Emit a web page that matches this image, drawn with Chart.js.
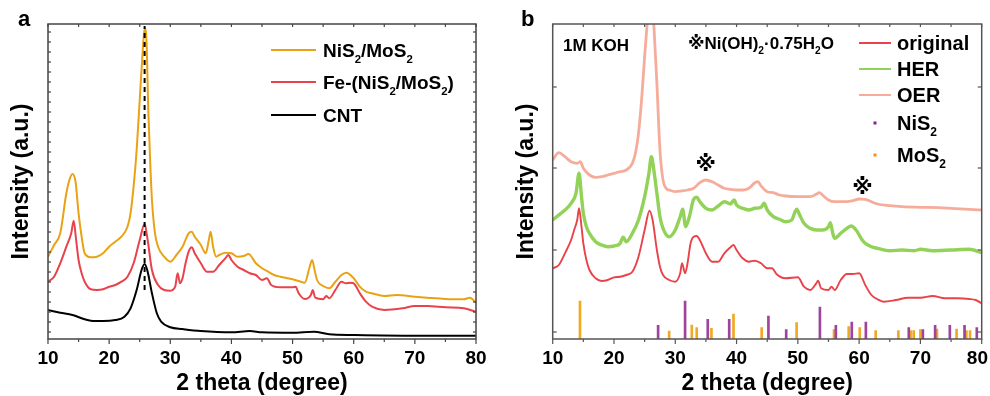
<!DOCTYPE html>
<html><head><meta charset="utf-8">
<script src="https://cdn.jsdelivr.net/npm/chart.js@4.4.1/dist/chart.umd.min.js"></script>
<style>
html,body{margin:0;padding:0;background:#fff;overflow:hidden;}
#wrap{position:relative;width:990px;height:396px;}
canvas{position:absolute;top:0;}
</style>
</head><body>
<div id="wrap">
<canvas id="ca" width="495" height="396" style="left:0"></canvas>
<canvas id="cb" width="495" height="396" style="left:495px"></canvas>
</div>
<script>
// ---------------- DATA ----------------
const xTickLabels = [10, 20, 30, 40, 50, 60, 70, 80];

// Panel a: [2theta, intensity(a.u.)]
const nisMosA = [[10,82.3],[11,94],[12,105.7],[13,145.7],[13.5,159],[14,165],[14.5,157.3],[15,125.7],[15.5,102.3],[16,85.7],[17,81.7],[18,82.3],[19,85.7],[20,92.3],[21,97.3],[22,102.3],[23,112.3],[23.5,125.7],[24,152.3],[24.5,189],[25,239],[25.5,289],[25.8,310.7],[26.1,299],[26.4,229],[26.7,179],[27,139],[27.5,105.7],[28,92.3],[29,82.3],[30,77.3],[31,84],[32,92.3],[33,105.7],[33.5,107.3],[34,102.3],[35,94],[35.8,85.7],[36.3,99],[36.6,107.3],[37,92.3],[37.5,82.3],[38,84],[39,86.3],[40,85.7],[41,82.3],[42,83],[42.8,85],[44,75.7],[45,70.7],[46,67.3],[47,64],[48,62.3],[50,59.7],[51,58],[52,56.3],[52.8,72.3],[53.2,79],[53.6,69],[54,59],[55,53],[56,50.7],[57,57.3],[58,64],[58.8,66.3],[60,60.7],[61,52.3],[62,47.3],[63,45.7],[65,43],[67,44],[70,42.3],[72,41.3],[75,40],[78,39.7],[79,41.3],[80,36.3]];
const feNisMosA = [[10,57.3],[11,62.3],[12,75.7],[13,92.3],[13.8,105.7],[14.2,118.3],[14.6,99],[15,79],[15.5,65.7],[16,57.3],[17,49.7],[18,49],[19,49.7],[20,52.3],[21,54],[22,57.3],[23,62.3],[24,75.7],[25,99],[25.8,115],[26.3,99],[27,69],[28,54],[29,49],[30,48.3],[30.8,52.3],[31.2,65.7],[31.6,55.7],[32,60.7],[32.5,75.7],[33,87.3],[33.5,91.7],[34,85.7],[35,75.7],[36,67.3],[37,67.3],[38,74],[39,80.7],[39.5,84],[40,79],[41,72.3],[42,69],[43,65.7],[44,64],[45,59],[45.8,60.7],[46.5,54],[48,51.7],[50,51.7],[50.5,52.3],[51,45.7],[52,40],[53,44],[53.3,49],[53.7,41.3],[55,39.7],[55.5,43],[56,40.7],[57,49],[58,57.3],[58.7,55.7],[59.5,56.3],[60,55.7],[61,45.7],[62,37.3],[63,32.3],[65,29],[68,30.7],[70,33],[72,33],[75,31.7],[78,30.7],[80,27.3]];
const cntA = [[10,29],[12,26.3],[14,24],[16,19.7],[17,18.3],[19,18],[21,19],[22.5,22.3],[23.5,30.7],[24.5,49],[25.3,69],[25.8,75],[26.3,67.3],[27,45.7],[27.8,25.7],[28.5,17.3],[30,11.7],[32,10],[35,8],[40,6.7],[43,8],[45,6.7],[50,6.3],[53.5,7.3],[56,4.7],[60,4],[70,3.3],[80,3.3]];
const dashLineA = [[25.8,49],[25.8,313]];

// Panel b
const originalB = [[10,70.7],[11,74],[12,85.7],[13,99],[13.5,109],[14,119],[14.3,130.7],[14.7,112.3],[15,95.7],[15.5,79],[16,69],[17,60.7],[18,58],[19,59],[20,61.7],[21,62.3],[22,64],[23,67.3],[24,82.3],[25,109],[25.8,128.3],[26.3,119],[27,89],[27.5,72.3],[28,64],[29,59],[30,57.3],[30.8,65.7],[31.1,75.7],[31.6,65.7],[32,75.7],[32.5,95.7],[33,102.3],[33.5,103],[34,99],[35,85.7],[36,77.3],[37,77.3],[38,85.7],[39,91.7],[39.5,94],[40,89],[41,80.7],[42,77.3],[43,78.3],[44,75.7],[45,70.7],[45.8,70.7],[46.5,65],[48,60.7],[50,61.7],[51,52.3],[52,49],[53,55.7],[53.3,58.3],[53.8,50.7],[55,49],[55.5,52.3],[56,49],[57,59],[58,65],[59,65],[60,65.7],[61,54],[62,44],[63,39.7],[64,37.3],[66,39],[68,41.3],[70,41.3],[72,43],[74,40.7],[76,40.7],[78,40],[79,39],[80,35.7]];
const herB = [[10,119],[11,124],[12,129],[13,135.7],[13.8,145.7],[14.3,165.7],[14.7,142.3],[15,125.7],[15.5,112.3],[16,105.7],[17,97.3],[18,94],[19,92.3],[20,93],[21,95.7],[21.5,101.7],[22,97.3],[23,105.7],[24,119],[25,142.3],[25.7,165.7],[26.1,182.3],[26.5,169],[27,145.7],[27.5,122.3],[28,110.7],[29,102.3],[30,109],[30.8,122.3],[31.2,129.7],[31.7,112.3],[32.3,122.3],[33,139.7],[33.5,141.7],[34,137.3],[35,130.7],[36,129],[37,133],[38,137.3],[39,135],[39.6,139],[40,134],[41,130.7],[42,129],[43,130.7],[44,131.7],[44.5,135.7],[45,129],[46,122.3],[47,119.7],[48,117.3],[49,119],[49.8,129.7],[50.3,124],[51,115.7],[52,110.7],[53,109],[54,109],[55,112.3],[55.3,116.3],[55.7,105.7],[56,100.7],[57,105.7],[58,110.7],[58.7,113],[59.5,109],[60.5,99],[61,95.7],[62,92.3],[63,90.7],[65,88.3],[67,89],[69,88.3],[70,89.7],[72,88.3],[75,89],[78,89.7],[80,86.3]];
const oerB = [[10,179],[11,186.3],[12,182.3],[13,177.3],[14,175.7],[14.5,177.3],[15,170.7],[16,164],[17,161.7],[18,162.3],[19,164],[20,165.7],[21,167.3],[22,169],[23,175.7],[23.5,185.7],[24,205.7],[24.5,239],[25,282.3],[25.4,314.7],[25.95,365],[26.5,314.7],[27,255.7],[27.5,189],[28,159],[28.5,150.7],[29,149],[30,147.3],[31,148],[32,149],[33,150.7],[34,156.3],[35,159],[36,157.3],[37,154],[38,150.7],[39,149.7],[40,149],[41,149],[42,150.7],[43,156.3],[43.5,157.3],[44,153],[45,147.3],[46,146.3],[47,144],[48,143],[50,142.3],[52,142.3],[53,144.7],[53.5,146.3],[54,144],[55,139],[56,137.3],[57,137.3],[58,137.3],[59,138.3],[60,140],[61,139.7],[62,137.3],[63,135],[65,133.3],[67,132.3],[70,131.7],[73,131.3],[75,130.7],[78,129.7],[80,129]];
// reference patterns (stick positions, relative intensity)
const nis2Sticks = [[27.2,13.7],[31.6,38],[35.3,19.7],[38.8,19.7],[45.2,23],[48.1,9.3],[53.6,32],[56.2,13.7],[58.8,17],[61.1,17],[68.1,11.3],[70.4,9.3],[72.4,13.7],[74.8,13.7],[77.2,13.7],[79.2,11.3]];
const mos2Sticks = [[14.45,38],[29.0,8],[32.7,14],[33.5,11.3],[35.9,10.7],[39.5,25],[44.1,11.3],[49.8,16.3],[55.9,9.3],[58.3,12.3],[60.1,11.3],[62.7,8.3],[66.4,8.3],[68.4,8.3],[68.9,8.3],[70.0,9.3],[72.7,10],[75.9,10],[77.5,8.3],[78.1,8.3]];
const starMarks = [[34.95,176],[60.55,153]];

const legendA = ['NiS_2/MoS_2', 'Fe-(NiS_2/MoS_2)', 'CNT'];
const legendB = ['original', 'HER', 'OER', 'NiS_2', 'MoS_2'];

// ---------------- STYLE ----------------
const FONT = "'Liberation Sans', Arial, 'DejaVu Sans', 'Noto Sans CJK SC', sans-serif";
const C_ORANGE = '#EAA215', C_RED = '#E8434B', C_BLACK = '#000000';
const C_GREEN = '#92D259', C_SALMON = '#F6AC9A', C_PURPLE = '#9E449C', C_STICKOR = '#F1A822';

const xy = arr => arr.map(([x, y]) => ({x, y}));

function drawRich(ctx, text, x, yMid, size, align) {
  const parts = [];
  text.split(/(_\d)/).forEach(p => { if (!p) return; if (p[0] === '_') parts.push([p.slice(1), true]); else parts.push([p, false]); });
  ctx.textBaseline = 'alphabetic';
  ctx.textAlign = 'left';
  let total = 0;
  parts.forEach(([t, s]) => { ctx.font = `bold ${s ? size * 0.6 : size}px ${FONT}`; total += ctx.measureText(t).width; });
  let cx = align === 'center' ? x - total / 2 : x;
  const base = yMid + size * 0.36;
  parts.forEach(([t, s]) => {
    ctx.font = `bold ${s ? size * 0.6 : size}px ${FONT}`;
    ctx.fillText(t, cx, base + (s ? size * 0.3 : 0));
    cx += ctx.measureText(t).width;
  });
}

function line(ctx, x1, y1, x2, y2) { ctx.beginPath(); ctx.moveTo(x1, y1); ctx.lineTo(x2, y2); ctx.stroke(); }

const decoPlugin = {
  id: 'deco',
  afterDraw(chart, args, o) {
    const {ctx, chartArea: a} = chart;
    const xs = chart.scales.x, ys = chart.scales.y;
    ctx.save();
    // frame
    ctx.strokeStyle = o.frameColor; ctx.lineWidth = 1.5;
    ctx.strokeRect(a.left, a.top, a.right - a.left, a.bottom - a.top);
    // x ticks
    ctx.lineWidth = 1.2;
    for (let v = 10; v <= 80; v += 5) {
      const px = xs.getPixelForValue(v);
      const major = v % 10 === 0;
      line(ctx, px, a.bottom, px, a.bottom + (major ? 5 : 3));
      line(ctx, px, a.top, px, a.top + 3);
    }
    // y ticks
    o.yTicks.forEach(v => {
      const py = ys.getPixelForValue(v);
      line(ctx, a.left, py, a.left + o.yTickLen, py);
      line(ctx, a.right, py, a.right - o.yTickLen, py);
    });
    // x tick labels
    ctx.fillStyle = '#000';
    ctx.font = `bold 19px ${FONT}`;
    ctx.textBaseline = 'middle';
    ctx.textAlign = 'center';
    xTickLabels.forEach(v => {
      let px = xs.getPixelForValue(v);
      const w = ctx.measureText(String(v)).width;
      px = Math.min(px, chart.width - w / 2 - 2);
      ctx.fillText(String(v), px, a.bottom + 19.5);
    });
    // panel letter
    ctx.font = `bold 22px ${FONT}`;
    ctx.textAlign = 'left';
    ctx.textBaseline = 'middle';
    ctx.fillText(o.letter, o.letterX, 20);
    // legend
    const L = o.legend;
    L.items.forEach((it, i) => {
      const y = L.rows[i];
      if (it.kind === 'line') {
        ctx.strokeStyle = it.color; ctx.lineWidth = 2;
        line(ctx, L.x1, y, L.x2, y);
      } else {
        ctx.fillStyle = it.color;
        ctx.fillRect((L.x1 + L.x2) / 2 - 1.5, y - 1.5, 3, 3);
      }
      ctx.fillStyle = '#000';
      drawRich(ctx, it.text, L.tx, y, L.size, 'left');
    });
    // annotations
    (o.notes || []).forEach(n => {
      ctx.fillStyle = '#000';
      drawRich(ctx, n.text, n.x, n.y, n.size, 'left');
    });
    (o.stars || []).forEach(([sx, sy]) => {
      ctx.fillStyle = '#000';
      drawRich(ctx, '※', xs.getPixelForValue(sx), ys.getPixelForValue(sy), 21, 'center');
    });
    ctx.restore();
  }
};

function baseOptions(leftW, rightPad, yTitlePad, deco) {
  return {
    responsive: false, animation: false, devicePixelRatio: 1,
    layout: {padding: {left: 0, right: rightPad, top: 24, bottom: 0}},
    elements: {point: {radius: 0}, line: {cubicInterpolationMode: 'monotone', fill: false}},
    plugins: {legend: {display: false}, tooltip: {enabled: false}, deco},
    scales: {
      x: {type: 'linear', min: 10, max: 80, offset: false,
        grid: {display: false, drawTicks: false}, border: {display: false},
        ticks: {display: false, stepSize: 10},
        title: {display: true, text: '2 theta (degree)', color: '#000',
          font: {family: FONT, size: 23, weight: 'bold', lineHeight: 1.1}, padding: {top: 0, bottom: 0}},
        afterFit(s) { s.height = 57; }},
      y: {type: 'linear', min: 0, max: 315,
        grid: {display: false, drawTicks: false}, border: {display: false},
        ticks: {display: false},
        title: {display: true, text: 'Intensity (a.u.)', color: '#000',
          font: {family: FONT, size: 23, weight: 'bold', lineHeight: 1.1}, padding: {top: yTitlePad, bottom: 0}},
        afterFit(s) { s.width = leftW; }}
    }
  };
}

const yTicksA = [];
for (let v = 7; v <= 307; v += 10) yTicksA.push(v);

new Chart(document.getElementById('ca'), {
  type: 'line',
  data: {datasets: [
    {label: 'dash', data: xy(dashLineA), borderColor: '#000', borderWidth: 2, borderDash: [5, 4], cubicInterpolationMode: 'default', tension: 0},
    {label: 'NiS2/MoS2', data: xy(nisMosA), borderColor: C_ORANGE, borderWidth: 2},
    {label: 'Fe-(NiS2/MoS2)', data: xy(feNisMosA), borderColor: C_RED, borderWidth: 2},
    {label: 'CNT', data: xy(cntA), borderColor: C_BLACK, borderWidth: 2}
  ]},
  options: baseOptions(48, 19, 9.3, {
    frameColor: '#444', yTicks: yTicksA, yTickLen: 3, letter: 'a', letterX: 18,
    legend: {x1: 271, x2: 316, tx: 323, size: 19, rows: [50, 82, 115],
      items: [{kind: 'line', color: C_ORANGE, text: legendA[0]}, {kind: 'line', color: C_RED, text: legendA[1]}, {kind: 'line', color: C_BLACK, text: legendA[2]}]}
  }),
  plugins: [decoPlugin]
});

new Chart(document.getElementById('cb'), {
  type: 'line',
  data: {datasets: [
    {label: 'OER', data: xy(oerB), borderColor: C_SALMON, borderWidth: 2.8},
    {label: 'HER', data: xy(herB), borderColor: C_GREEN, borderWidth: 3.4},
    {label: 'original', data: xy(originalB), borderColor: C_RED, borderWidth: 1.9},
    {type: 'bar', label: 'NiS2', data: xy(nis2Sticks), backgroundColor: C_PURPLE, barThickness: 2, grouped: false, borderWidth: 0},
    {type: 'bar', label: 'MoS2', data: xy(mos2Sticks), backgroundColor: C_STICKOR, barThickness: 2, grouped: false, borderWidth: 0}
  ]},
  options: baseOptions(57.7, 8.3, 19, {
    frameColor: '#555', yTicks: [7, 89, 171, 252], yTickLen: 4, letter: 'b', letterX: 26,
    legend: {x1: 364, x2: 396, tx: 402, size: 20, rows: [43, 69, 95, 123, 155],
      items: [{kind: 'line', color: C_RED, text: legendB[0]}, {kind: 'line', color: C_GREEN, text: legendB[1]}, {kind: 'line', color: C_SALMON, text: legendB[2]},
        {kind: 'sq', color: '#8B1E8B', text: legendB[3]}, {kind: 'sq', color: '#FF8A1E', text: legendB[4]}]},
    notes: [{text: '1M KOH', x: 68, y: 45, size: 17}, {text: '※Ni(OH)_2·0.75H_2O', x: 193, y: 43, size: 17}],
    stars: starMarks
  }),
  plugins: [decoPlugin]
});
</script>
</body></html>
